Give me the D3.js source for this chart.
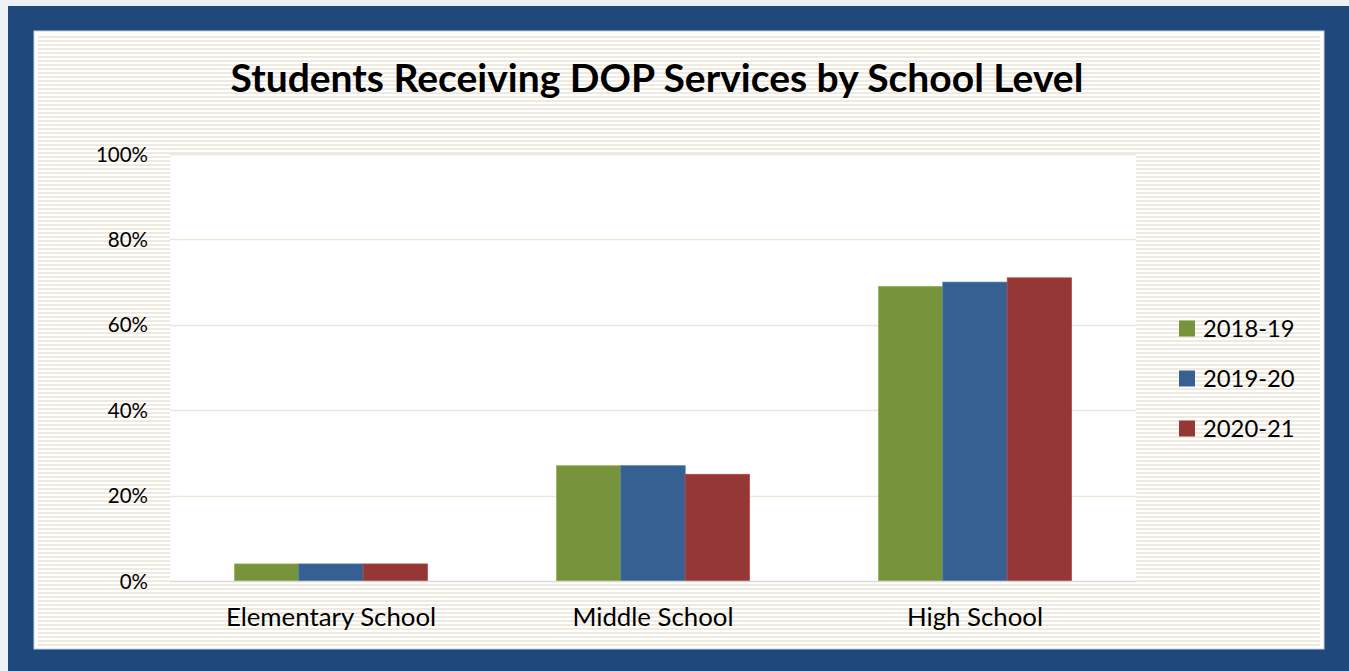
<!DOCTYPE html>
<html><head><meta charset="utf-8">
<script src="https://cdn.jsdelivr.net/npm/d3@7"></script>
<style>html,body{margin:0;padding:0;background:#eef2f7;overflow:hidden}</style>
</head><body>
<script>
const categories = ["Elementary School", "Middle School", "High School"];
const seriesNames = ["2018-19", "2019-20", "2020-21"];
const values2018 = [4, 27, 69];
const values2019 = [4, 27, 70];
const values2020 = [4, 25, 71];
const yTicks = [0, 20, 40, 60, 80, 100];
const colors = ["#77933C", "#376092", "#953735"];
const title = "Students Receiving DOP Services by School Level";

const seriesValues = [values2018, values2019, values2020];
const W = 1349, H = 671;
const svg = d3.select("body").append("svg").attr("width", W).attr("height", H);
const font = "Lato, 'Open Sans', sans-serif";

// frame
svg.append("rect").attr("x", 8).attr("y", 6).attr("width", W - 8).attr("height", H - 6).attr("fill", "#1F497D");
svg.append("rect").attr("x", 34).attr("y", 31).attr("width", 1290).attr("height", 618).attr("fill", "#ffffff").attr("stroke", "#c9d2de").attr("stroke-width", 1);
const defs = svg.append("defs");
const pat = defs.append("pattern").attr("id", "stripes").attr("patternUnits", "userSpaceOnUse").attr("width", 8).attr("height", 4).attr("x", 0).attr("y", 36);
pat.append("rect").attr("width", 8).attr("height", 4).attr("fill", "#ffffff");
pat.append("rect").attr("width", 8).attr("height", 2).attr("fill", "#EEEADF");
svg.append("rect").attr("x", 38).attr("y", 36).attr("width", 1282).attr("height", 610).attr("fill", "url(#stripes)");

// plot area
const plot = {left: 170, right: 1136, top: 154, bottom: 581};
svg.append("rect").attr("x", plot.left).attr("y", plot.top).attr("width", plot.right - plot.left).attr("height", plot.bottom - plot.top).attr("fill", "#ffffff");

const x = d3.scaleBand().domain(categories).range([plot.left, plot.right]).paddingInner(0.4).paddingOuter(0.2);
const xs = d3.scaleBand().domain(seriesNames).range([0, x.bandwidth()]);
const y = d3.scaleLinear().domain([0, 100]).range([plot.bottom, plot.top]);

// grid
svg.append("g").selectAll("line").data(yTicks.filter(d => d > 0)).join("line")
  .attr("x1", plot.left).attr("x2", plot.right)
  .attr("y1", d => Math.round(y(d)) + 0.5).attr("y2", d => Math.round(y(d)) + 0.5)
  .attr("stroke", "#EBE7DB").attr("stroke-width", 1.5);

// y axis labels
const yAxis = d3.axisLeft(y).tickValues(yTicks).tickFormat(d => d + "%").tickSize(0).tickPadding(0);
const gy = svg.append("g").attr("transform", `translate(148,0)`).call(yAxis);
gy.select(".domain").remove();
gy.selectAll("text").attr("font-family", font).attr("font-size", 20.5).attr("fill", "#000").attr("dy", "0.35em");

// bars
seriesNames.forEach((s, si) => {
  svg.append("g").selectAll("rect").data(categories).join("rect")
    .attr("x", c => x(c) + xs(s))
    .attr("width", xs.bandwidth())
    .attr("y", (c, i) => y(seriesValues[si][i]))
    .attr("height", (c, i) => y(0) - y(seriesValues[si][i]))
    .attr("fill", colors[si])
    .attr("stroke", d3.color(colors[si]).brighter(0.6))
    .attr("stroke-width", 0.7);
});

// baseline
svg.append("line").attr("x1", plot.left).attr("x2", plot.right).attr("y1", plot.bottom + 0.5).attr("y2", plot.bottom + 0.5).attr("stroke", "#D9D9D9").attr("stroke-width", 1.5);

// x axis labels
const xAxis = d3.axisBottom(x).tickSize(0).tickPadding(0);
const gx = svg.append("g").attr("transform", `translate(0,${626})`).call(xAxis);
gx.select(".domain").remove();
gx.selectAll("text").attr("font-family", font).attr("font-size", 25.8).attr("fill", "#000").attr("dy", 0);

// title
svg.append("text").attr("x", 657).attr("y", 92).attr("text-anchor", "middle")
  .attr("font-family", font).attr("font-weight", "bold").attr("font-size", 39).attr("fill", "#000").text(title);

// legend
const ly = d3.scalePoint().domain(seriesNames).range([328.5, 428.5]);
const lg = svg.append("g").selectAll("g").data(seriesNames).join("g").attr("transform", d => `translate(1179,${ly(d)})`);
lg.append("rect").attr("x", 0).attr("y", -8).attr("width", 16).attr("height", 16).attr("fill", (d, i) => colors[i]);
lg.append("text").attr("x", 24).attr("y", 0).attr("dy", "0.35em").attr("font-family", font).attr("font-size", 23.8).attr("fill", "#000").text(d => d);
</script>
</body></html>
